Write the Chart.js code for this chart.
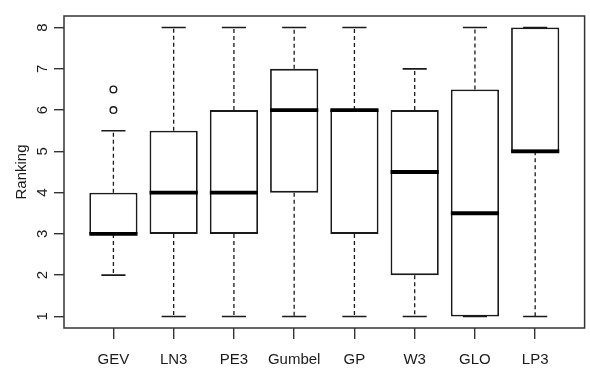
<!DOCTYPE html>
<html>
<head>
<meta charset="utf-8">
<script src="https://cdn.jsdelivr.net/npm/chart.js@4.4.1/dist/chart.umd.min.js"></script>
<style>
  html, body { margin: 0; padding: 0; background: #fff; }
  #c { display: block; }
</style>
</head>
<body>
<canvas id="c" width="590" height="371"></canvas>
<script>
// ---- data ----
const categories = ["GEV", "LN3", "PE3", "Gumbel", "GP", "W3", "GLO", "LP3"];
const whiskerLow = [2, 1, 1, 1, 1, 1, 1, 1];
const q1 =         [3, 3, 3, 4, 3, 2, 1, 5];
const median =     [3, 4, 4, 6, 6, 4.5, 3.5, 5];
const q3 =         [4, 5.5, 6, 7, 6, 6, 6.5, 8];
const whiskerHigh= [5.5, 8, 8, 8, 8, 7, 8, 8];
const outlierCat = [1, 1];
const outlierVal = [6, 6.5];
const yTicks = [1, 2, 3, 4, 5, 6, 7, 8];

const INK = '#1a1a1a';
const FONT = { family: "'Liberation Sans', Arial, Helvetica, sans-serif", size: 15 };

const boxData = categories.map((c, i) => ({ x: i + 1, y: [q1[i], q3[i]] }));
const outData = outlierCat.map((c, i) => ({ x: c, y: outlierVal[i] }));

const boxPlugin = {
  id: 'boxParts',
  beforeDatasetsDraw(chart) {
    const ctx = chart.ctx, xs = chart.scales.x, ys = chart.scales.y;
    const meta = chart.getDatasetMeta(0);
    ctx.save();
    ctx.strokeStyle = INK;
    categories.forEach((c, i) => {
      const x = xs.getPixelForValue(i + 1);
      const w = meta.data[i].width;
      const capHalf = w / 4;
      // dashed whiskers
      ctx.lineWidth = 1.3;
      ctx.setLineDash([4, 3]);
      ctx.beginPath();
      ctx.moveTo(x, ys.getPixelForValue(q3[i]));
      ctx.lineTo(x, ys.getPixelForValue(whiskerHigh[i]));
      ctx.moveTo(x, ys.getPixelForValue(q1[i]));
      ctx.lineTo(x, ys.getPixelForValue(whiskerLow[i]));
      ctx.stroke();
      // caps
      ctx.setLineDash([]);
      ctx.lineWidth = 1.6;
      ctx.beginPath();
      const yh = ys.getPixelForValue(whiskerHigh[i]);
      const yl = ys.getPixelForValue(whiskerLow[i]);
      ctx.moveTo(x - capHalf, yh); ctx.lineTo(x + capHalf, yh);
      ctx.moveTo(x - capHalf, yl); ctx.lineTo(x + capHalf, yl);
      ctx.stroke();
    });
    ctx.restore();
  },
  afterDatasetsDraw(chart) {
    const ctx = chart.ctx, xs = chart.scales.x, ys = chart.scales.y;
    const meta = chart.getDatasetMeta(0);
    ctx.save();
    ctx.strokeStyle = '#000';
    ctx.lineWidth = 3.8;
    categories.forEach((c, i) => {
      const x = xs.getPixelForValue(i + 1);
      const w = meta.data[i].width;
      const y = ys.getPixelForValue(median[i]);
      ctx.beginPath();
      ctx.moveTo(x - w / 2, y);
      ctx.lineTo(x + w / 2, y);
      ctx.stroke();
    });
    // plot frame
    const a = chart.chartArea;
    ctx.strokeStyle = '#333';
    ctx.lineWidth = 1.5;
    ctx.strokeRect(a.left, a.top, a.right - a.left, a.bottom - a.top);
    ctx.restore();
  }
};

new Chart(document.getElementById('c'), {
  type: 'bar',
  data: {
    datasets: [
      {
        type: 'bar',
        data: boxData,
        backgroundColor: '#ffffff',
        borderColor: INK,
        borderWidth: 1.8,
        borderSkipped: false,
        categoryPercentage: 1.0,
        barPercentage: 0.8,
        order: 2
      },
      {
        type: 'scatter',
        data: outData,
        pointStyle: 'circle',
        pointRadius: 3.3,
        pointBorderWidth: 1.4,
        pointBackgroundColor: '#ffffff',
        pointBorderColor: INK,
        order: 1
      }
    ]
  },
  options: {
    responsive: false,
    devicePixelRatio: 1,
    animation: false,
    layout: { padding: { top: 7, right: 1, left: 0, bottom: 0 } },
    plugins: { legend: { display: false }, tooltip: { enabled: false } },
    scales: {
      x: {
        type: 'linear',
        min: 0.18,
        max: 8.82,
        offset: false,
        afterBuildTicks(s) { s.ticks = categories.map((c, i) => ({ value: i + 1 })); },
        afterFit(s) { s.height = 43; },
        ticks: {
          autoSkip: false,
          maxRotation: 0,
          minRotation: 0,
          padding: 12,
          color: INK,
          font: FONT,
          callback: (v) => categories[Math.round(v) - 1]
        },
        grid: {
          display: true,
          offset: false,
          drawOnChartArea: false,
          drawTicks: true,
          tickLength: 11,
          color: '#333',
          lineWidth: 1.4
        },
        border: { display: false }
      },
      y: {
        type: 'linear',
        min: 0.72,
        max: 8.28,
        afterBuildTicks(s) { s.ticks = yTicks.map(v => ({ value: v })); },
        afterFit(s) { s.width = 64; },
        ticks: {
          autoSkip: false,
          minRotation: 90,
          maxRotation: 90,
          crossAlign: 'center',
          padding: 7,
          color: INK,
          font: FONT,
          callback: (v) => String(v)
        },
        grid: {
          display: true,
          drawOnChartArea: false,
          drawTicks: true,
          tickLength: 10,
          color: '#333',
          lineWidth: 1.4
        },
        border: { display: false },
        title: {
          display: true,
          text: 'Ranking',
          color: INK,
          font: FONT,
          padding: { top: 13, bottom: 0 }
        }
      }
    }
  },
  plugins: [boxPlugin]
});
</script>
</body>
</html>
